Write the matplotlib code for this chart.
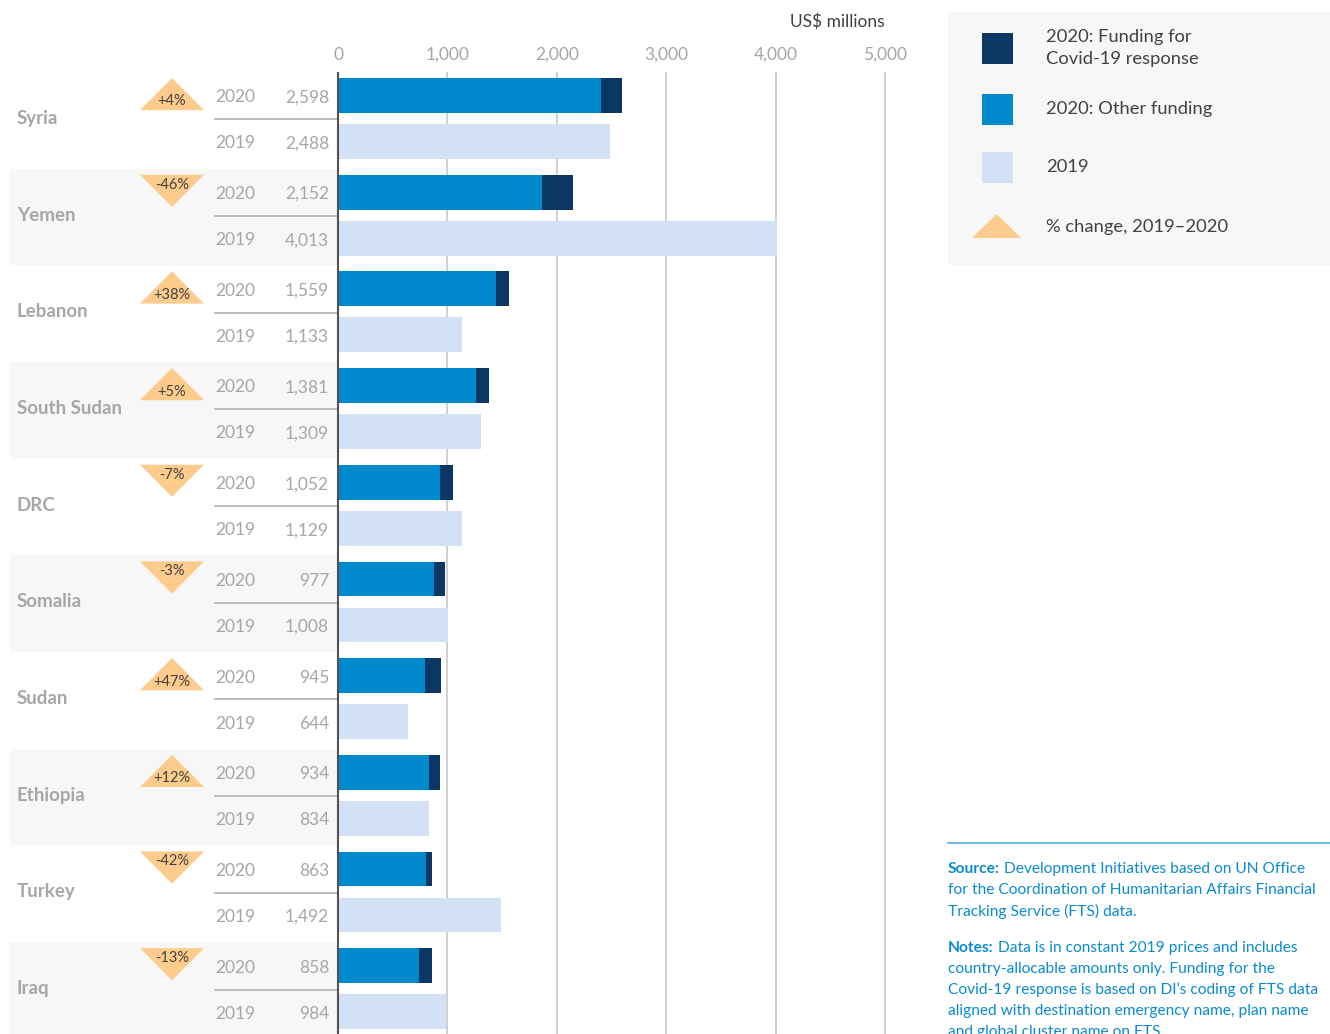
import matplotlib
matplotlib.use("Agg")
import matplotlib.pyplot as plt
from matplotlib.patches import Polygon, Rectangle

plt.rcParams['font.family'] = ['Lato', 'DejaVu Sans']

countries = ["Syria", "Yemen", "Lebanon", "South Sudan", "DRC", "Somalia",
             "Sudan", "Ethiopia", "Turkey", "Iraq"]
total_2020 = [2598, 2152, 1559, 1381, 1052, 977, 945, 934, 863, 858]
total_2019 = [2488, 4013, 1133, 1309, 1129, 1008, 644, 834, 1492, 984]
covid_2020 = [190, 283, 119, 119, 119, 100, 146, 100, 55, 119]
pct_change = ["+4%", "-46%", "+38%", "+5%", "-7%", "-3%", "+47%", "+12%", "-42%", "-13%"]
xticks = [0, 1000, 2000, 3000, 4000, 5000]

c_covid = "#0b3764"
c_other = "#0089cc"
c_2019 = "#d2e1f3"
c_tri = "#fdcb8b"
c_band = "#f7f7f7"
c_grey = "#a9a5a5"
c_dark = "#444042"
c_src = "#0a8bd0"

W, H = 1330, 1034
fig = plt.figure(figsize=(W / 100, H / 100), dpi=100)

# axes: x pixel 10..940, y pixel 72..1034
px_per_unit = 109.4 / 1000
x0_px = 338
left_px, right_px = 10, 940
ax = fig.add_axes([left_px / W, 0, (right_px - left_px) / W, (H - 72) / H])
ax.set_xlim(-(x0_px - left_px) / px_per_unit, (right_px - x0_px) / px_per_unit)
ax.set_ylim(9.95, 0)
ax.axis("off")
xmin = ax.get_xlim()[0]

bar_h = 0.36
off20, off19 = 0.243, 0.719

for i, name in enumerate(countries):
    # alternating band
    if i % 2 == 1:
        ax.add_patch(Rectangle((xmin, i), -xmin, 1, color=c_band, lw=0, zorder=0))
    y20, y19 = i + off20, i + off19
    other = total_2020[i] - covid_2020[i]
    ax.barh(y20, other, height=bar_h, color=c_other, zorder=3)
    ax.barh(y20, covid_2020[i], left=other, height=bar_h, color=c_covid, zorder=3)
    ax.barh(y19, total_2019[i], height=bar_h, color=c_2019, zorder=3)

    ax.text(xmin + 7 / px_per_unit, i + 0.48, name, fontsize=13.5, fontweight="bold",
            color=c_grey, va="center", ha="left")
    tx = -(x0_px - 215) / px_per_unit
    vx = -(x0_px - 329) / px_per_unit
    ax.text(tx, y20 + 0.02, "2020", fontsize=12.5, color=c_grey, va="center", ha="left")
    ax.text(tx, y19 + 0.02, "2019", fontsize=12.5, color=c_grey, va="center", ha="left")
    ax.text(vx, y20 + 0.02, f"{total_2020[i]:,}", fontsize=12.5,
            color=c_grey, va="center", ha="right")
    ax.text(vx, y19 + 0.02, f"{total_2019[i]:,}", fontsize=12.5,
            color=c_grey, va="center", ha="right")
    ax.plot([tx, 0], [i + 0.49, i + 0.49], color="#b5b1b1", lw=1.2, zorder=2)

    # triangle
    tl, tr = -(x0_px - 140) / px_per_unit, -(x0_px - 204) / px_per_unit
    tm = (tl + tr) / 2
    top, bot = i + 0.062, i + 0.395
    if pct_change[i].startswith("+"):
        pts = [(tl, bot), (tr, bot), (tm, top)]
        ly = i + 0.305
    else:
        pts = [(tl, top), (tr, top), (tm, bot)]
        ly = i + 0.165
    ax.add_patch(Polygon(pts, closed=True, color=c_tri, lw=0, zorder=2))
    ax.text(tm, ly, pct_change[i], fontsize=10.5, color=c_dark, ha="center", va="center",
            zorder=4)

# gridlines and axis
for t in xticks[1:]:
    ax.plot([t, t], [0, 9.95], color="#c4c4c4", lw=1.1, zorder=1)
    ax.text(t, -0.18, f"{t:,}", fontsize=12.5, color=c_grey, ha="center", va="center")
ax.plot([0, 0], [0, 9.95], color="#555052", lw=1.5, zorder=5)
ax.text(0, -0.18, "0", fontsize=12.5, color=c_grey, ha="center", va="center")
ax.text(5000, -0.52, "US$ millions", fontsize=12.5, color=c_dark, ha="right", va="center")

# legend panel
fig.patches.append(Rectangle((948 / W, 1 - 265 / H), (W - 948) / W, (265 - 12) / H,
                             transform=fig.transFigure, color=c_band, lw=0, zorder=0))
leg = [(c_covid, 48, "2020: Funding for\nCovid-19 response"),
       (c_other, 109, "2020: Other funding"),
       (c_2019, 167, "2019")]
for col, yc, lab in leg:
    fig.patches.append(Rectangle((982 / W, 1 - (yc + 15.5) / H), 31 / W, 31 / H,
                                 transform=fig.transFigure, color=col, lw=0))
    fig.text(1046 / W, 1 - yc / H, lab, fontsize=13.2, color=c_dark, va="center",
             ha="left", linespacing=1.4)
fig.patches.append(Polygon([(972 / W, 1 - 238 / H), (1021 / W, 1 - 238 / H),
                            (996.5 / W, 1 - 214 / H)], closed=True,
                           transform=fig.transFigure, color=c_tri, lw=0))
fig.text(1046 / W, 1 - 227 / H, "% change, 2019\u20132020", fontsize=13.2, color=c_dark,
         va="center", ha="left")

# source and notes
fig.add_artist(plt.Line2D([948 / W, 1], [1 - 843 / H, 1 - 843 / H],
                          transform=fig.transFigure, color="#5cb8e8", lw=1.3))
src_lines = [
    ("Source:", " Development Initiatives based on UN Office"),
    ("", "for the Coordination of Humanitarian Affairs Financial"),
    ("", "Tracking Service (FTS) data."),
]
notes_lines = [
    ("Notes:", " Data is in constant 2019 prices and includes"),
    ("", "country-allocable amounts only. Funding for the"),
    ("", "Covid-19 response is based on DI\u2019s coding of FTS data"),
    ("", "aligned with destination emergency name, plan name"),
    ("", "and global cluster name on FTS."),
]


def write_block(lines, y_start):
    y = y_start
    for bold, rest in lines:
        x = 948
        if bold:
            t = fig.text(x / W, 1 - y / H, bold, fontsize=11.2, fontweight="bold",
                         color=c_src, va="center", ha="left")
            fig.canvas.draw()
            bb = t.get_window_extent()
            x = bb.x1
        fig.text(x / W, 1 - y / H, rest, fontsize=11.2, color=c_src, va="center", ha="left")
        y += 21


write_block(src_lines, 869)
write_block(notes_lines, 948)

fig.savefig("out.png", dpi=100)
